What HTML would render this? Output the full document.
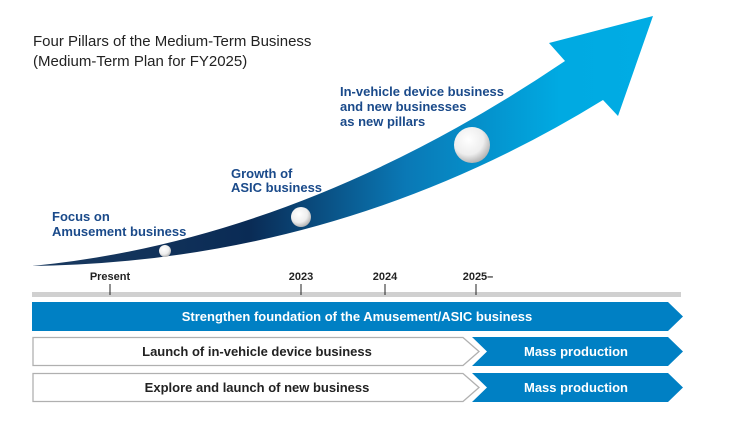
<!DOCTYPE html><html><head><style>body{margin:0;background:#fff}svg{display:block;font-family:"Liberation Sans",sans-serif}</style></head><body>
<svg width="748" height="431" viewBox="0 0 748 431">
<defs>
<linearGradient id="g" x1="32" y1="0" x2="653" y2="0" gradientUnits="userSpaceOnUse">
<stop offset="0" stop-color="#1a3a60"/><stop offset="0.35" stop-color="#0a2b55"/><stop offset="0.6" stop-color="#0a78b5"/><stop offset="0.85" stop-color="#00aae2"/><stop offset="1" stop-color="#00ace4"/></linearGradient>
<radialGradient id="b" cx="0.4" cy="0.35" r="0.7"><stop offset="0" stop-color="#fff"/><stop offset="0.6" stop-color="#eee"/><stop offset="1" stop-color="#aaa"/></radialGradient>
</defs>
<text x="33" y="46" font-size="15" fill="#222">Four Pillars of the Medium-Term Business</text>
<text x="33" y="66" font-size="15" fill="#222">(Medium-Term Plan for FY2025)</text>
<path d="M32,266 Q300,240 565,61 L549,43 L653,16 L618,116 L603,100 Q340,262 32,266Z" fill="url(#g)"/>
<circle cx="165" cy="251" r="6" fill="url(#b)"/>
<circle cx="301" cy="217" r="10" fill="url(#b)"/>
<circle cx="472" cy="145" r="18" fill="url(#b)"/>
<g font-size="13" font-weight="bold" fill="#1a4a8a">
<text x="52" y="221">Focus on</text><text x="52" y="236">Amusement business</text>
<text x="231" y="178">Growth of</text><text x="231" y="192">ASIC business</text>
<text x="340" y="96">In-vehicle device business</text><text x="340" y="111">and new businesses</text><text x="340" y="126">as new pillars</text>
</g>
<g font-size="11" font-weight="bold" fill="#222" text-anchor="middle">
<text x="110" y="280">Present</text><text x="301" y="280">2023</text><text x="385" y="280">2024</text><text x="478" y="280">2025–</text></g>
<rect x="32" y="292" width="649" height="5" fill="#d0d0d0"/>
<g stroke="#222" stroke-width="1"><line x1="110" y1="284" x2="110" y2="295"/><line x1="301" y1="284" x2="301" y2="295"/><line x1="385" y1="284" x2="385" y2="295"/><line x1="476" y1="284" x2="476" y2="295"/></g>
<path d="M32,302 L668,302 L683,316.5 L668,331 L32,331Z" fill="#0080c4"/>
<path d="M33,337.5 L463,337.5 L479,351.5 L463,365.5 L33,365.5Z" fill="#fff" stroke="#b0b0b0" stroke-width="1.3"/>
<path d="M472,337 L668,337 L683,351.5 L668,366 L472,366 L487,351.5Z" fill="#0080c4"/>
<path d="M33,373.5 L463,373.5 L479,387.5 L463,401.5 L33,401.5Z" fill="#fff" stroke="#b0b0b0" stroke-width="1.3"/>
<path d="M472,373 L668,373 L683,387.5 L668,402 L472,402 L487,387.5Z" fill="#0080c4"/>
<g font-size="13" font-weight="bold" text-anchor="middle">
<text x="357" y="321" fill="#fff">Strengthen foundation of the Amusement/ASIC business</text>
<text x="257" y="356" fill="#222">Launch of in-vehicle device business</text>
<text x="257" y="392" fill="#222">Explore and launch of new business</text>
<text x="576" y="356" fill="#fff">Mass production</text>
<text x="576" y="392" fill="#fff">Mass production</text>
</g>
</svg></body></html>
